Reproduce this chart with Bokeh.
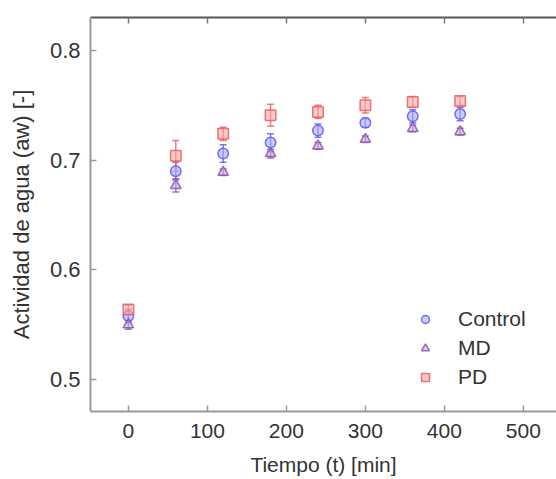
from bokeh.plotting import figure
from bokeh.models import (ColumnDataSource, Whisker, TeeHead, FixedTicker, LinearAxis,
                          Range1d, Legend, LegendItem)
from bokeh.embed import file_html
from bokeh.resources import INLINE

t = [0, 60, 120, 180, 240, 300, 360, 420]
control = [0.558, 0.690, 0.706, 0.716, 0.727, 0.734, 0.740, 0.742]
control_err = [0.006, 0.008, 0.008, 0.008, 0.006, 0.004, 0.006, 0.006]
md = [0.550, 0.677, 0.689, 0.706, 0.713, 0.719, 0.729, 0.726]
md_err = [0.004, 0.006, 0.003, 0.004, 0.003, 0.003, 0.003, 0.003]
pd_ = [0.564, 0.704, 0.724, 0.741, 0.744, 0.750, 0.753, 0.754]
pd_err = [0.004, 0.014, 0.006, 0.010, 0.006, 0.007, 0.005, 0.004]

x_ticks = [0, 100, 200, 300, 400, 500]
y_ticks = [0.5, 0.6, 0.7, 0.8]
series_names = ["Control", "MD", "PD"]

FONT = "Liberation Sans"
X0, X1 = -48, 542
Y0, Y1 = 0.471, 0.830

p = figure(width=556, height=479, output_backend="svg", toolbar_location=None,
           x_range=Range1d(X0, X1), y_range=Range1d(Y0, Y1),
           min_border_left=90, min_border_top=17, min_border_bottom=68, min_border_right=0)
p.outline_line_color = None
p.xgrid.visible = False
p.ygrid.visible = False
p.background_fill_color = "white"

for ax in (p.xaxis[0], p.yaxis[0]):
    ax.axis_line_color = "#9a9a9a"
    ax.axis_line_width = 2
    ax.major_tick_line_color = "#9a9a9a"
    ax.major_tick_line_width = 1.5
    ax.major_tick_in = 6
    ax.major_tick_out = 0
    ax.minor_tick_line_color = None
    ax.major_label_text_font = FONT
    ax.major_label_text_font_size = "21px"
    ax.major_label_text_color = "#333333"
    ax.axis_label_text_font = FONT
    ax.axis_label_text_font_style = "normal"
    ax.axis_label_text_color = "#333333"
    ax.axis_label_text_font_size = "21px"

p.yaxis.major_label_text_font_size = "22px"
p.yaxis.axis_label_text_font_size = "22px"
p.xaxis.ticker = FixedTicker(ticks=x_ticks)
p.yaxis.ticker = FixedTicker(ticks=y_ticks)
p.xaxis.major_label_standoff = 12
p.yaxis.major_label_standoff = 10
p.xaxis.axis_label = "Tiempo (t) [min]"
p.xaxis.axis_label_standoff = 12
p.yaxis.axis_label = "Actividad de agua (aw) [-]"
p.yaxis.axis_label_standoff = 13

top = LinearAxis(ticker=FixedTicker(ticks=x_ticks), major_label_text_font_size="1px",
                 major_label_text_color=None,
                 axis_line_color="#555555", axis_line_width=2,
                 major_tick_line_color="#777777", major_tick_line_width=1.5,
                 major_tick_in=6, major_tick_out=0, minor_tick_line_color=None,
                 major_label_standoff=0)
p.add_layout(top, "above")

styles = [
    dict(marker="circle", line="#5a5af0", fill="#a8a8ff"),
    dict(marker="triangle", line="#8a55a8", fill="#c8a8dc"),
    dict(marker="square", line="#ec5c5c", fill="#f8a8a8"),
]
data = [(control, control_err), (md, md_err), (pd_, pd_err)]

items = []
for name, (vals, errs), st in zip(series_names, data, styles):
    src = ColumnDataSource(dict(x=t, y=vals,
                                lo=[v - e for v, e in zip(vals, errs)],
                                hi=[v + e for v, e in zip(vals, errs)]))
    w = Whisker(source=src, base="x", lower="lo", upper="hi",
                line_color=st["line"], line_width=1.5, line_alpha=0.8,
                upper_head=TeeHead(size=7, line_color=st["line"], line_width=1.5, line_alpha=0.8),
                lower_head=TeeHead(size=7, line_color=st["line"], line_width=1.5, line_alpha=0.8))
    p.add_layout(w)
    r = p.scatter("x", "y", source=src, marker=st["marker"], size=10.5,
                  fill_color=st["fill"], fill_alpha=0.6,
                  line_color=st["line"], line_width=1.5, line_alpha=0.85)
    items.append(LegendItem(label=name, renderers=[r]))

legend = Legend(items=items, location=(325, 22), border_line_color=None,
                background_fill_alpha=0, padding=0, margin=0, spacing=5,
                label_standoff=23, glyph_width=20, label_height=20, glyph_height=20,
                label_text_font=FONT, label_text_font_size="21px", label_text_color="#333333")
p.add_layout(legend, "center")

open("out.html", "w").write(file_html(p, INLINE))
